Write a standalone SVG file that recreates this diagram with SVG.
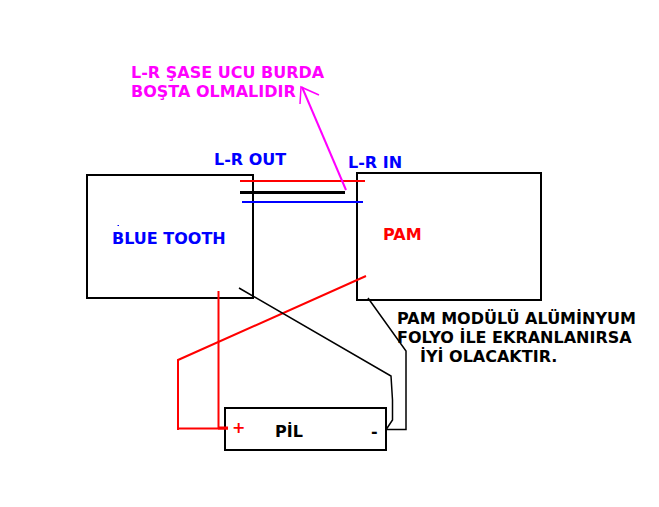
<svg xmlns="http://www.w3.org/2000/svg" width="659" height="507" viewBox="0 0 659 507">
<style>
.box{fill:none;stroke:#000;stroke-width:2}
.t{font-family:"DejaVu Sans",sans-serif;font-weight:bold;font-size:16px}
.w{fill:none;stroke-linejoin:miter}
</style>
<rect width="659" height="507" fill="#fff"/>
<g id="bluetooth">
<rect class="box" x="87" y="175" width="166" height="123"/>
<text class="t" x="112" y="244" fill="#0000ff">BLUE TOOTH</text>
<rect x="117.5" y="225" width="1.5" height="1" fill="#0000ff"/>
</g>
<g id="pam">
<rect class="box" x="357" y="173" width="184" height="127"/>
<text class="t" x="383" y="240" fill="#ff0000">PAM</text>
</g>
<g id="pil">
<rect class="box" x="225" y="408" width="161" height="42"/>
<text class="t" x="275" y="437" fill="#000">PİL</text>
<text class="t" x="232" y="433" fill="#ff0000">+</text>
<text class="t" x="371" y="437" fill="#000">-</text>
</g>
<g id="labels">
<text class="t" x="131" y="78" fill="#ff00ff">L-R ŞASE UCU BURDA</text>
<text class="t" x="131" y="97" fill="#ff00ff">BOŞTA OLMALIDIR</text>
<text class="t" x="214" y="165" fill="#0000ff">L-R OUT</text>
<text class="t" x="348" y="168" fill="#0000ff">L-R IN</text>
<text class="t" x="397" y="324" fill="#000">PAM MODÜLÜ ALÜMİNYUM</text>
<text class="t" x="397" y="343" fill="#000">FOLYO İLE EKRANLANIRSA</text>
<text class="t" x="420" y="362" fill="#000">İYİ OLACAKTIR.</text>
</g>
<g id="connectors">
<line x1="240" y1="181" x2="365" y2="181" stroke="#ff0000" stroke-width="2"/>
<line x1="240" y1="192.5" x2="345" y2="192.5" stroke="#000" stroke-width="3"/>
<line x1="242" y1="202" x2="363" y2="202" stroke="#0000ff" stroke-width="2"/>
<polyline class="w" points="346,190 302,87" stroke="#ff00ff" stroke-width="2"/>
<polyline class="w" points="300,104 301,87 319,95" stroke="#ff00ff" stroke-width="1.5"/>
<line x1="218.5" y1="291" x2="218.5" y2="428" stroke="#ff0000" stroke-width="2"/>
<polyline class="w" points="366,276 178,360 178,430" stroke="#ff0000" stroke-width="2"/>
<line x1="177" y1="428.5" x2="228" y2="428.5" stroke="#ff0000" stroke-width="2"/>
<line x1="218" y1="428" x2="228" y2="428" stroke="#ff0000" stroke-width="3"/>
<polyline class="w" points="239,288 391,376 392.5,400 392.5,420 386.5,429" stroke="#000" stroke-width="1.5"/>
<polyline class="w" points="368,298 406,351 406,429.5 387,429.5" stroke="#000" stroke-width="1.5"/>
</g>
</svg>
